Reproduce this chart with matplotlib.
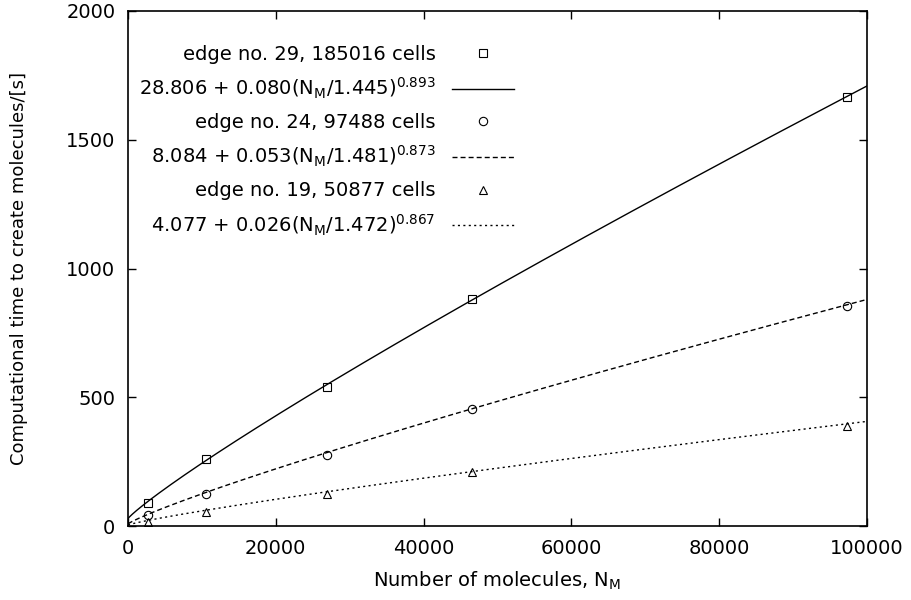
import matplotlib
matplotlib.use("Agg")
import matplotlib.pyplot as plt
import numpy as np

plt.rcParams["font.family"] = ["DejaVu Sans"]
plt.rcParams["mathtext.default"] = "regular"
plt.rcParams["font.size"] = 14

# measured points
n_molecules = [2700, 10600, 26900, 46550, 97300]
time_edge29 = [90, 260, 540, 880, 1666]
time_edge24 = [43, 125, 275, 455, 855]
time_edge19 = [16, 55, 124, 210, 390]

# fit coefficients a + b*(N/c)^d, as given in the legend
fit_edge29 = (28.806, 0.080, 1.445, 0.893)
fit_edge24 = (8.084, 0.053, 1.481, 0.873)
fit_edge19 = (4.077, 0.026, 1.472, 0.867)

point_labels = ["edge no. 29, 185016 cells",
                "edge no. 24, 97488 cells",
                "edge no. 19, 50877 cells"]
fit_labels = [r"28.806 + 0.080(N$_{M}$/1.445)$^{0.893}$",
              r"8.084 + 0.053(N$_{M}$/1.481)$^{0.873}$",
              r"4.077 + 0.026(N$_{M}$/1.472)$^{0.867}$"]


def fit_curve(x, coef):
    a, b, c, d = coef
    return a + b * (x / c) ** d


fig = plt.figure(figsize=(9.12, 6.0), dpi=100)
ax = fig.add_axes([128 / 912, 1 - 526 / 600, 739 / 912, 515 / 600])

xs = np.linspace(0, 100000, 500)
series = [
    (time_edge29, fit_edge29, "s", (None, None)),
    (time_edge24, fit_edge24, "o", (3.6, 2.2)),
    (time_edge19, fit_edge19, "^", (1.5, 2.4)),
]
for i, (ys, coef, marker, dashes) in enumerate(series):
    ax.plot(n_molecules, ys, linestyle="none", marker=marker, ms=6,
            mfc="none", mec="black", mew=0.8, label=point_labels[i])
    line, = ax.plot(xs, fit_curve(xs, coef), color="black", lw=1.0,
                    label=fit_labels[i])
    if dashes[0] is not None:
        line.set_dashes(dashes)

ax.set_xlim(0, 100000)
ax.set_ylim(0, 2000)
ax.set_xticks([0, 20000, 40000, 60000, 80000, 100000])
ax.set_yticks([0, 500, 1000, 1500, 2000])
ax.tick_params(direction="in", length=6, width=1, top=True, right=True,
               pad=9)
for sp in ax.spines.values():
    sp.set_linewidth(1.2)

ax.set_xlabel(r"Number of molecules, N$_{M}$")
ax.set_ylabel("Computational time to create molecules/[s]", fontsize=13)
ax.xaxis.set_label_coords(0.5, -0.085)
ax.yaxis.set_label_coords(-0.135, 0.5)

handles, labels = ax.get_legend_handles_labels()
leg = ax.legend(handles, labels, loc="upper left",
                bbox_to_anchor=(-0.004, 0.961), frameon=False,
                markerfirst=False, handlelength=3.2, handletextpad=0.85,
                labelspacing=0.62, borderaxespad=0.3)
for vp in leg._legend_handle_box.get_children():
    vp.align = "right"

fig.savefig("out.png", dpi=100)
